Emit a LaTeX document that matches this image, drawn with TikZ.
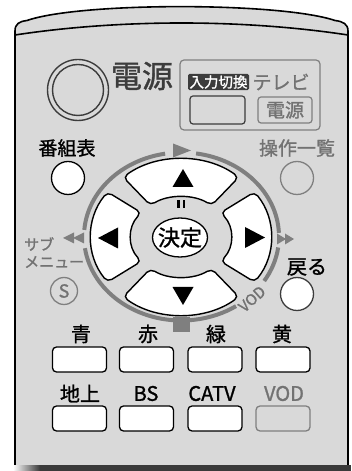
\documentclass[tikz,border=0pt]{standalone}
\usepackage{fontspec}
\setmainfont{Noto Sans CJK JP}[FakeBold=1.2]
\usetikzlibrary{calc}
\definecolor{bodygray}{HTML}{D9D9D9}
\definecolor{ringgray}{HTML}{7F7F7F}
\definecolor{txtgray}{HTML}{727272}
\definecolor{darkgraytwo}{HTML}{3C3C3C}
\definecolor{shadowc}{HTML}{3A3A3A}
\newcommand{\myfs}[1]{\fontsize{#1}{#1}\selectfont}
\begin{document}
\begin{tikzpicture}[x=1pt,y=1pt,
  keyshape/.style={fill=white,draw=black,line width=1.4pt,rounded corners=5pt},
  whitebtn/.style={draw=black,fill=white,line width=1.3pt,rounded corners=4pt,minimum width=54pt,minimum height=25pt,inner sep=0pt},
  graybtn/.style={draw=ringgray,fill=bodygray,line width=1.3pt,rounded corners=4pt,minimum width=54pt,minimum height=25pt,inner sep=0pt},
  lbl/.style={inner sep=0pt,font=\myfs{19}},
  ringarc/.style={draw=ringgray,line width=4pt},
  tri/.style={fill=black},
  gtri/.style={fill=ringgray},
]
\useasboundingbox (0,0) rectangle (351,471);
\fill[white] (0,0) rectangle (351,471);
% shadow
\shade[left color=white,right color=shadowc] (13,0) rectangle (40,6);
\fill[shadowc] (40,0) rectangle (351,6);
% body
\fill[bodygray] (15,6) -- (15,440) .. controls (15,447) and (19,449.5) .. (27,450.5)
  .. controls (80,469) and (280,469) .. (335,450.5)
  .. controls (343,449.5) and (348,447) .. (348,440) -- (348,6) -- cycle;
\draw[line width=1.6pt] (15,6) -- (15,440) .. controls (15,447) and (19,449.5) .. (27,450.5)
  .. controls (80,469) and (280,469) .. (335,450.5)
  .. controls (343,449.5) and (348,447) .. (348,440) -- (348,6);
\draw[line width=1.6pt] (15,436) .. controls (120,452) and (243,452) .. (348,436);

% power
\draw[draw=darkgraytwo,line width=1.4pt] (78,381) circle[radius=30.5];
\draw[draw=darkgraytwo,line width=1.4pt] (78,381) circle[radius=25.5];
\node[inner sep=0pt,font=\myfs{31},text=darkgraytwo] (dengen) at (142,395) {電源};

% input box
\draw[draw=ringgray,line width=1.2pt,rounded corners=4pt] (180,341) rectangle (320,411);
\node[fill=darkgraytwo,text=white,font=\myfs{14.5},inner sep=1.5pt,rounded corners=1.5pt] (nyuryoku) at (218.5,389) {入力切換};
\node[lbl,text=txtgray] (terebi) at (281,389) {テレビ};
\node[draw=darkgraytwo,line width=1.2pt,rounded corners=3pt,minimum width=55pt,minimum height=28pt,inner sep=0pt] (inputbtn) at (217.5,361) {};
\node[draw=ringgray,line width=1.2pt,rounded corners=3pt,minimum width=54pt,minimum height=26pt,inner sep=0pt,font=\myfs{19},text=txtgray] (tvpower) at (285,361) {電源};

% top small buttons
\node[lbl] (bangumi) at (67,323) {番組表};
\node[lbl,text=txtgray] (sousa) at (297,323) {操作一覧};
\node[circle,draw=black,fill=white,line width=1.3pt,minimum size=33pt,inner sep=0pt] (bangumibtn) at (68,293) {};
\node[circle,draw=ringgray,line width=1.3pt,minimum size=33pt,inner sep=0pt] (sousabtn) at (297,293) {};

% side
\node[lbl,anchor=west,text=txtgray,font=\myfs{15}] (sabu) at (24,227) {サブ};
\node[lbl,anchor=west,text=txtgray,font=\myfs{15}] (menu) at (24,209) {メニュー};
\node[circle,draw=ringgray,line width=1.3pt,minimum size=27pt,inner sep=0pt,text=txtgray,font=\myfs{18}] (sbtn) at (64,180) {S};
\node[lbl,font=\myfs{20}] (modoru) at (307,204) {戻る};
\node[circle,draw=darkgraytwo,fill=white,line width=1.3pt,minimum size=33pt,inner sep=0pt] (modorubtn) at (297,177) {};

% ring
\coordinate (R) at (181.5,234.5);
\draw[ringarc] ($(R)+(2.5:97.5 and 84)$) arc[start angle=2.5,end angle=81.4,x radius=97.5,y radius=84];
\draw[ringarc] ($(R)+(99.7:97.5 and 84)$) arc[start angle=99.7,end angle=175.5,x radius=97.5,y radius=84];
\draw[ringarc] ($(R)+(188:97.5 and 84)$) arc[start angle=188,end angle=304,x radius=97.5,y radius=84];
\draw[ringarc] ($(R)+(328:97.5 and 84)$) arc[start angle=328,end angle=352.5,x radius=97.5,y radius=84];
\fill[gtri] (173,327.5) -- (191,320.5) -- (173,313.5) -- cycle;
\fill[gtri] (63,233) -- (74,238.5) -- (74,227.5) -- cycle;
\fill[gtri] (73,233) -- (84,238.5) -- (84,227.5) -- cycle;
\fill[gtri] (277,237.5) -- (286,232) -- (277,226.5) -- cycle;
\fill[gtri] (285,237.5) -- (294,232) -- (285,226.5) -- cycle;
\fill[gtri] (173,139) rectangle (190,153.5);
\node[rotate=42,text=txtgray,font=\myfs{15},inner sep=0pt] (vodring) at (252,172) {VOD};

% d-pad keys
\coordinate (K) at (181,234);
\filldraw[keyshape] ($(K)+(50.07:90 and 78)$) arc[start angle=50.07,end angle=129.93,x radius=90,y radius=78]
  -- ($(K)+(127.69:50 and 40)$) arc[start angle=127.69,end angle=52.31,x radius=50,y radius=40] -- cycle;
\filldraw[keyshape] ($(K)+(144.74:90 and 78)$) arc[start angle=144.74,end angle=215.26,x radius=90,y radius=78]
  -- ($(K)+(217.45:50 and 40)$) arc[start angle=217.45,end angle=142.55,x radius=50,y radius=40] -- cycle;
\filldraw[keyshape] ($(K)+(230.07:90 and 78)$) arc[start angle=230.07,end angle=309.93,x radius=90,y radius=78]
  -- ($(K)+(307.69:50 and 40)$) arc[start angle=307.69,end angle=232.31,x radius=50,y radius=40] -- cycle;
\filldraw[keyshape] ($(K)+(-35.26:90 and 78)$) arc[start angle=-35.26,end angle=35.26,x radius=90,y radius=78]
  -- ($(K)+(37.45:50 and 40)$) arc[start angle=37.45,end angle=-37.45,x radius=50,y radius=40] -- cycle;

% enter
\filldraw[fill=white,draw=black,line width=1.3pt] (180,233.5) ellipse[x radius=27.5,y radius=19.5];
\node[inner sep=0pt,font=\myfs{22}] (kettei) at (180,233.5) {決定};
\fill (177,263) rectangle (179.5,271);
\fill (182.5,263) rectangle (185,271);

% arrows
\fill[tri] (172.5,284) -- (193.5,284) -- (183,302) -- cycle;
\fill[tri] (172.5,184) -- (193.5,184) -- (183,166) -- cycle;
\fill[tri] (118,243.5) -- (118,222.5) -- (98,233) -- cycle;
\fill[tri] (245,244) -- (245,223) -- (265,233.5) -- cycle;

% color buttons
\node[lbl,font=\myfs{20}] (ao) at (81,137) {青};
\node[lbl,font=\myfs{20}] (aka) at (148,137) {赤};
\node[lbl,font=\myfs{20}] (midori) at (216,137) {緑};
\node[lbl,font=\myfs{20}] (ki) at (282,137) {黄};
\node[whitebtn] (aobtn) at (79.5,111.5) {};
\node[whitebtn] (akabtn) at (146.5,111.5) {};
\node[whitebtn] (midoribtn) at (215,111.5) {};
\node[whitebtn] (kibtn) at (283,111.5) {};

\node[lbl,font=\myfs{20}] (chijo) at (80,77.5) {地上};
\node[lbl,font=\myfs{20}] (bs) at (146,77.5) {BS};
\node[lbl,font=\myfs{20}] (catv) at (212,77.5) {CATV};
\node[lbl,font=\myfs{20},text=txtgray] (vod) at (284,77.5) {VOD};
\node[whitebtn] (chijobtn) at (79.5,52.5) {};
\node[whitebtn] (bsbtn) at (146.5,52.5) {};
\node[whitebtn] (catvbtn) at (215,52.5) {};
\node[graybtn] (vodbtn) at (283,52.5) {};
\end{tikzpicture}
\end{document}
